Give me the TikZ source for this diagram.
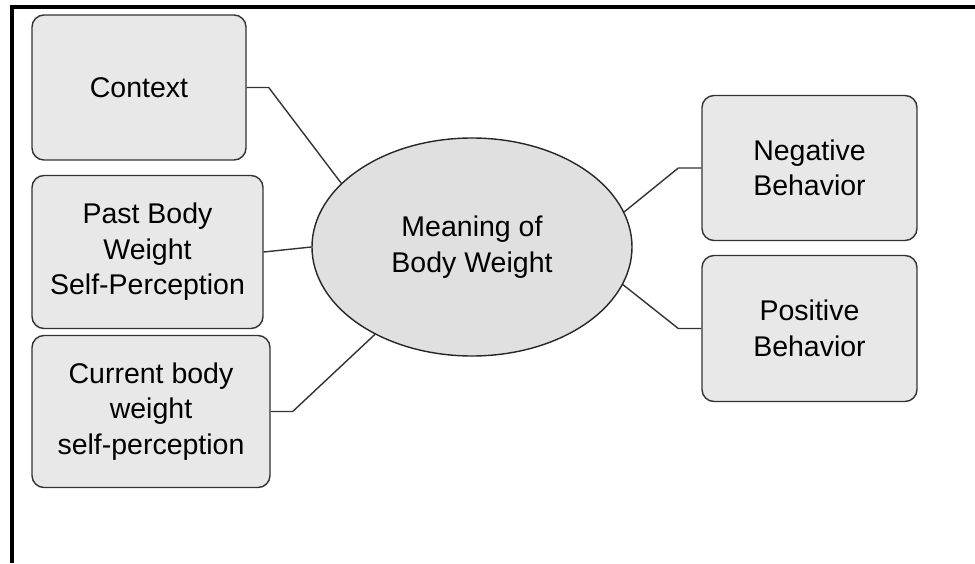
\documentclass[tikz,border=0pt]{standalone}
\usepackage{fontspec}
\setmainfont{Liberation Sans}
\usetikzlibrary{shapes.geometric}
\begin{document}
\begin{tikzpicture}[x=1pt,y=-1pt,
  box/.style={draw=black!80, line width=1.4pt, fill=black!9, rounded corners=12pt,
    align=center, font=\fontsize{28.5}{35.5}\selectfont, inner sep=0pt},
  hub/.style={ellipse, draw=black!85, line width=1.4pt, fill=black!12,
    align=center, font=\fontsize{28.5}{36.5}\selectfont, inner sep=0pt,
    minimum width=320pt, minimum height=218pt},
  link/.style={draw=black!80, line width=1.4pt}]
\useasboundingbox (0,0) rectangle (975,563);
\draw[line width=4pt] (12,563) -- (12,7) -- (975,7);

\node[box, minimum width=214pt, minimum height=145pt] (ctx) at (139,87.5) {Context};
\node[box, minimum width=231pt, minimum height=153pt] (past) at (147.5,252) {Past Body\\Weight\\Self-Perception};
\node[box, minimum width=238pt, minimum height=152pt] (cur) at (151,411.5) {Current body\\weight\\self-perception};
\node[box, minimum width=215pt, minimum height=145pt] (neg) at (809.5,168) {Negative\\Behavior};
\node[box, minimum width=215pt, minimum height=146pt] (pos) at (809.5,328.5) {Positive\\Behavior};
\node[hub] (ell) at (472,247) {Meaning of\\Body Weight};

\draw[link] (ctx.east) -- ++(22,0) -- (ell.154);
\draw[link] (past.east) -- (ell.west);
\draw[link] (cur.east) -- ++(22,0) -- (ell.222);
\draw[link] (neg.west) -- ++(-23,0) -- (ell.13);
\draw[link] (pos.west) -- ++(-23,0) -- (ell.346);
\end{tikzpicture}
\end{document}
